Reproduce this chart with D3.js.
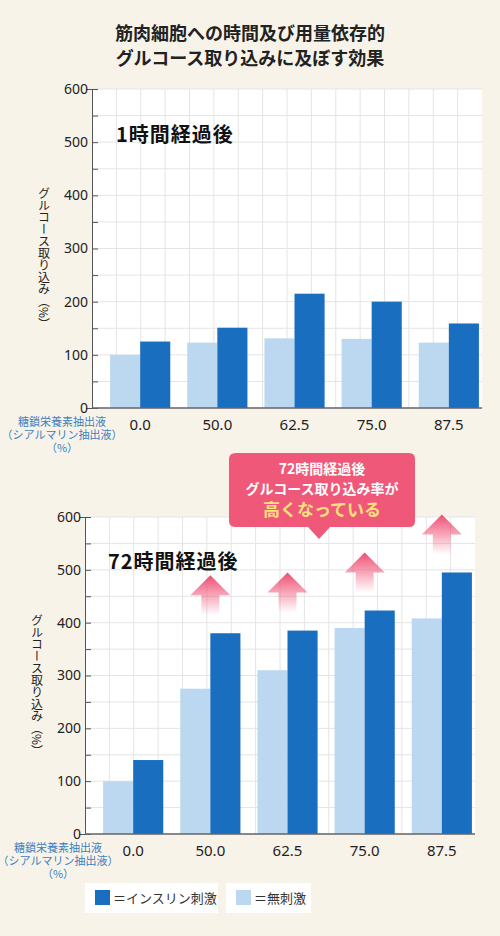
<!DOCTYPE html>
<html><head><meta charset="utf-8">
<script src="https://cdn.jsdelivr.net/npm/d3@7"></script>
<style>body{margin:0;background:#f8f3e9;}svg{display:block;font-family:"Noto Sans CJK JP","Noto Sans",sans-serif;}</style>
</head><body><svg id="c" width="500" height="936"></svg>
<script>
const categories=["0.0","50.0","62.5","75.0","87.5"];
const yTicks=[0,100,200,300,400,500,600];
const h1Basal=[100,123,131,130,123];
const h1Insulin=[125,151,215,200,159];
const h72Basal=[100,275,310,390,408];
const h72Insulin=[140,380,385,423,495];
const arrowGroups=["50.0","62.5","75.0","87.5"];

const svg=d3.select("#c");
const defs=svg.append("defs");
const g=defs.append("linearGradient").attr("id","ag").attr("x1",0).attr("y1",0).attr("x2",0).attr("y2",1);
g.append("stop").attr("offset",0).attr("stop-color","#ef4f74");
g.append("stop").attr("offset",1).attr("stop-color","#ef4f74").attr("stop-opacity",0);

svg.append("text").attr("x",250).attr("y",40).attr("text-anchor","middle").attr("font-size",18).attr("font-weight",700).attr("fill","#222").text("筋肉細胞への時間及び用量依存的");
svg.append("text").attr("x",250).attr("y",65).attr("text-anchor","middle").attr("font-size",18).attr("font-weight",700).attr("fill","#222").text("グルコース取り込みに及ぼす効果");

function chart(o){
  const y=d3.scaleLinear().domain([0,600]).range([o.y0,o.y1]);
  const x=d3.scaleBand().domain(categories).range([o.bx0,o.bx1]).paddingInner(0.22).paddingOuter(0.04);
  const G=svg.append("g");
  G.append("rect").attr("x",o.ax).attr("y",o.y1).attr("width",o.ax1-o.ax).attr("height",o.y0-o.y1).attr("fill","#fff");
  d3.range(0,601,50).forEach(v=>G.append("line").attr("x1",o.ax).attr("x2",o.ax1).attr("y1",y(v)).attr("y2",y(v)).attr("stroke","#e4e4e4"));
  const vx=d3.scaleLinear().domain([0,16]).range([o.ax,o.ax1]);
  d3.range(1,16).forEach(i=>G.append("line").attr("x1",vx(i)).attr("x2",vx(i)).attr("y1",o.y1).attr("y2",o.y0).attr("stroke","#e4e4e4"));
  const bw=x.bandwidth()/2;
  categories.forEach((c,i)=>{
    G.append("rect").attr("x",x(c)).attr("y",y(o.basal[i])).attr("width",bw).attr("height",o.y0-y(o.basal[i])).attr("fill","#bcd8f0");
    G.append("rect").attr("x",x(c)+bw).attr("y",y(o.ins[i])).attr("width",bw).attr("height",o.y0-y(o.ins[i])).attr("fill","#1a6ec0");
  });
  const ax=G.append("g").attr("transform",`translate(${o.ax},0)`).call(d3.axisLeft(y).tickValues(d3.range(0,601,50)).tickSize(6).tickFormat(v=>yTicks.includes(v)?v:""));
  ax.select(".domain").attr("stroke","#555");
  ax.selectAll(".tick line").attr("stroke","#555").attr("transform","translate(6,0)");
  ax.selectAll("text").attr("font-size",14).attr("fill","#222").attr("x",-4).attr("font-family","Noto Sans");
  G.append("line").attr("x1",o.ax).attr("x2",o.ax1).attr("y1",o.y0).attr("y2",o.y0).attr("stroke","#666").attr("stroke-width",1.5);
  categories.forEach(c=>G.append("text").attr("x",x(c)+bw).attr("y",o.y0+22).attr("text-anchor","middle").attr("font-size",15).attr("fill","#222").attr("font-family","Noto Sans").text(c));
  const lt=["糖鎖栄養素抽出液","（シアルマリン抽出液）","（%）"];
  lt.forEach((t,i)=>G.append("text").attr("x",o.ltx).attr("y",o.y0+18+i*13).attr("text-anchor","middle").attr("font-size",11).attr("fill","#3d7fc0").text(t));
  G.append("text").attr("x",o.ax-48).attr("y",(o.y0+o.y1)/2+10).attr("text-anchor","middle").style("writing-mode","vertical-rl").attr("font-size",12).attr("fill","#222").text("グルコース取り込み（%）");
  G.append("text").attr("x",o.tx).attr("y",y(o.ty)).attr("font-size",20).attr("font-weight",700).attr("fill","#111").attr("letter-spacing",1).text(o.title);
  return {x,y,bw};
}
chart({y0:408,y1:89,ax:92,ax1:482,bx0:107,bx1:482,basal:h1Basal,ins:h1Insulin,title:"1時間経過後",ty:500,tx:116,ltx:62});
const c2=chart({y0:834,y1:517,ax:85,ax1:475,bx0:100,bx1:475,basal:h72Basal,ins:h72Insulin,title:"72時間経過後",ty:502,tx:108,ltx:58});

arrowGroups.forEach(cat=>{
  const i=categories.indexOf(cat);
  const cx=c2.x(cat)+c2.bw;
  const top=c2.y(h72Insulin[i])-58;
  const p=[[cx,top],[cx+20,top+20],[cx+9,top+20],[cx+9,top+40],[cx-9,top+40],[cx-9,top+20],[cx-20,top+20]];
  svg.append("polygon").attr("points",p.map(d=>d.join(",")).join(" ")).attr("fill","url(#ag)");
});

svg.append("path").attr("d","M236,453 H409 Q415,453 415,459 V521 Q415,527 409,527 H330 L319,539 L308,527 H236 Q229,527 229,521 V459 Q229,453 236,453 Z").attr("fill","#f0587a");
svg.append("text").attr("x",322).attr("y",474).attr("text-anchor","middle").attr("font-size",14).attr("font-weight",700).attr("fill","#fff").text("72時間経過後");
svg.append("text").attr("x",322).attr("y",494).attr("text-anchor","middle").attr("font-size",14).attr("font-weight",700).attr("fill","#fff").text("グルコース取り込み率が");
svg.append("text").attr("x",322).attr("y",516).attr("text-anchor","middle").attr("font-size",17).attr("font-weight",700).attr("fill","#ffe27a").text("高くなっている");

const legend=[{t:"＝インスリン刺激",c:"#1a6ec0",x:85,w:133},{t:"＝無刺激",c:"#bcd8f0",x:226,w:85}];
legend.forEach(l=>{
  svg.append("rect").attr("x",l.x).attr("y",883).attr("width",l.w).attr("height",30).attr("fill","#fff");
  svg.append("rect").attr("x",l.x+10).attr("y",890).attr("width",15).attr("height",15).attr("fill",l.c);
  svg.append("text").attr("x",l.x+28).attr("y",903).attr("font-size",13).attr("fill","#333").text(l.t);
});
</script></body></html>
